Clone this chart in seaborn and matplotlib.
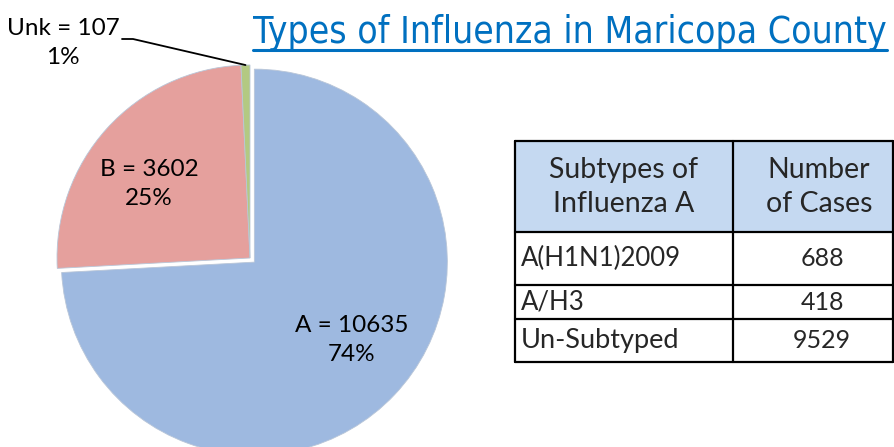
import numpy as np
import matplotlib
matplotlib.use("Agg")
import matplotlib.pyplot as plt
import seaborn as sns
from matplotlib.patches import Rectangle

# pie data
types = ["A", "B", "Unk"]
cases = [10635, 3602, 107]
type_colors = ["#9EB9E0", "#E5A09D", "#B3C982"]

# table data
subtypes = ["A(H1N1)2009", "A/H3", "Un-Subtyped"]
subtype_cases = [688, 418, 9529]
table_header = ["Subtypes of\nInfluenza A", "Number\nof Cases"]

title = "Types of Influenza in Maricopa County"

sns.set_theme(style="white")
plt.rcParams["font.family"] = ["Lato", "DejaVu Sans"]

W, H = 894, 447
fig = plt.figure(figsize=(W / 100, H / 100), dpi=100)
ax = fig.add_axes([0, 0, 1, 1])

def Y(y):
    # image row -> data y (y axis points up)
    return H - y

# ---- pie ----
cx, cy, r = 250, Y(258), 193
total = sum(cases)
wedges, _ = ax.pie(cases, colors=type_colors, startangle=90, counterclock=False,
                   center=(cx, cy), radius=r, explode=[6, 0, 0],
                   wedgeprops=dict(edgecolor="#B9C6D8", linewidth=0.6))
ax.set_xlim(0, W)
ax.set_ylim(0, H)
ax.set_aspect("equal")
ax.axis("off")

pct = [round(c / total * 100) for c in cases]
lab_pos = {"A": (352, 340), "B": (149, 184), "Unk": (63, 43)}
for t, c, p in zip(types, cases, pct):
    x, y = lab_pos[t]
    ax.text(x, Y(y), f"{t} = {c}\n{p}%", ha="center", va="center",
            fontsize=17.5, linespacing=1.45, color="black")

# leader line for the tiny slice
w = wedges[2]
mid = np.deg2rad((w.theta1 + w.theta2) / 2)
ex, ey = cx + r * np.cos(mid), cy + r * np.sin(mid)
ax.plot([122, 133, ex], [Y(39), Y(39), ey], color="black", lw=1.3)

# ---- title ----
tt = ax.text(253, Y(43), title, ha="left", va="baseline", fontsize=26.7,
             color="#0070C0", family="DejaVu Sans", fontstretch="condensed")
fig.canvas.draw()
bb = tt.get_window_extent().transformed(ax.transData.inverted())
ax.plot([bb.x0, bb.x1], [Y(50), Y(50)], color="#0070C0", lw=2.2)

# ---- table ----
xs = [515, 733, 893]
ys = [141, 232, 285, 319, 362]
ax.add_patch(Rectangle((xs[0], Y(ys[1])), xs[2] - xs[0], ys[1] - ys[0],
                       facecolor="#C5D9F1", edgecolor="none"))
for y in ys:
    ax.plot([xs[0], xs[2]], [Y(y), Y(y)], color="black", lw=1.6)
for x in xs:
    ax.plot([x, x], [Y(ys[0]), Y(ys[-1])], color="black", lw=1.6)

ax.text((xs[0] + xs[1]) / 2, Y(187), table_header[0], ha="center", va="center",
        fontsize=20.5, linespacing=1.38)
ax.text(819, Y(187), table_header[1], ha="center", va="center",
        fontsize=20.5, linespacing=1.38)
for i, (s, n) in enumerate(zip(subtypes, subtype_cases)):
    yc = Y((ys[i + 1] + ys[i + 2]) / 2)
    ax.text(521, yc, s, ha="left", va="center", fontsize=19.5 if "-" in s else 18.5)
    ax.text(822, yc, str(n), ha="center", va="center", fontsize=18)

fig.savefig("out.png", dpi=100, facecolor="white")
